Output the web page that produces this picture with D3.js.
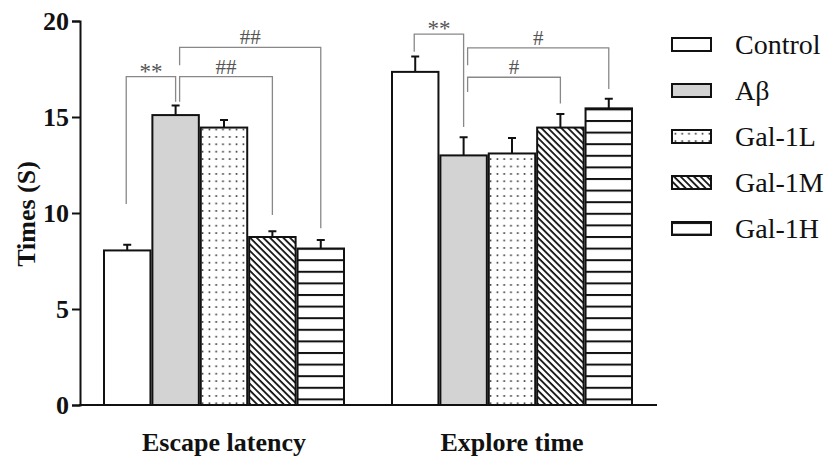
<!DOCTYPE html>
<html>
<head>
<meta charset="utf-8">
<title>Escape latency / Explore time</title>
<script src="https://d3js.org/d3.v7.min.js"></script>
<style>
  body { margin: 0; background: #fff; }
</style>
</head>
<body>
<div class="chart"></div>
<script>
const groups = ["Escape latency", "Explore time"];
const series = ["Control", "Aβ", "Gal-1L", "Gal-1M", "Gal-1H"];
const escapeMeans = [8.05, 15.1, 14.45, 8.75, 8.15];
const escapeErrs  = [0.3, 0.5, 0.4, 0.3, 0.45];
const exploreMeans = [17.35, 13.0, 13.1, 14.45, 15.45];
const exploreErrs  = [0.8, 0.95, 0.8, 0.7, 0.5];
const yTicks = [0, 5, 10, 15, 20];

// significance brackets (heights in seconds)
const sigGroup    = [0, 0, 0, 1, 1, 1];
const sigFrom     = ["Control", "Aβ", "Aβ", "Control", "Aβ", "Aβ"];
const sigTo       = ["Aβ", "Gal-1M", "Gal-1H", "Aβ", "Gal-1M", "Gal-1H"];
const sigLabel    = ["**", "##", "##", "**", "#", "#"];
const sigTop      = [17.1, 17.1, 18.63, 19.32, 17.07, 18.6];
const sigLeftEnd  = [10.47, 15.8, 17.7, 18.4, 16.3, 17.7];
const sigRightEnd = [15.8, 9.9, 9.2, 14.48, 15.7, 16.46];

const means = [escapeMeans, exploreMeans];
const errs = [escapeErrs, exploreErrs];
const FONT = "'Liberation Serif', 'Times New Roman', Times, serif";

const width = 825, height = 459;
const svg = d3.select("div.chart").append("svg")
  .attr("width", width)
  .attr("height", height);

// patterns
const defs = svg.append("defs");
const dots = defs.append("pattern").attr("id", "dots")
  .attr("patternUnits", "userSpaceOnUse")
  .attr("width", 6.8).attr("height", 7.4);
dots.append("rect").attr("width", 6.8).attr("height", 7.4).attr("fill", "#fff");
dots.append("circle").attr("cx", 3.4).attr("cy", 3.7).attr("r", 1).attr("fill", "#333");

const hatch = defs.append("pattern").attr("id", "hatch")
  .attr("patternUnits", "userSpaceOnUse")
  .attr("width", 4.7).attr("height", 10)
  .attr("patternTransform", "rotate(-45)");
hatch.append("rect").attr("width", 4.7).attr("height", 10).attr("fill", "#fff");
hatch.append("line").attr("x1", 1).attr("x2", 1).attr("y1", 0).attr("y2", 10)
  .attr("stroke", "#111").attr("stroke-width", 1.8);

function stripePattern(id, offset) {
  const p = defs.append("pattern").attr("id", id)
    .attr("patternUnits", "userSpaceOnUse")
    .attr("width", 10).attr("height", 11.6).attr("y", offset);
  p.append("rect").attr("width", 10).attr("height", 11.6).attr("fill", "#fff");
  p.append("line").attr("x1", 0).attr("x2", 10).attr("y1", 1).attr("y2", 1)
    .attr("stroke", "#111").attr("stroke-width", 2);
}
stripePattern("stripes", 4);
stripePattern("stripesKey", 0);

const fills = ["#fff", "#d3d3d3", "url(#dots)", "url(#hatch)", "url(#stripes)"];
const keyFills = ["#fff", "#d3d3d3", "url(#dots)", "url(#hatch)", "url(#stripesKey)"];

// scales
const y = d3.scaleLinear().domain([0, 20]).range([405, 21]);
const x0 = d3.scaleBand().domain(groups).range([80, 656])
  .paddingInner(48 / 288).paddingOuter(24 / 288);
const x1 = d3.scaleBand().domain(series).range([0, x0.bandwidth()])
  .paddingInner(0.04);
const cx = (g, s) => x0(groups[g]) + x1(s) + x1.bandwidth() / 2;

// bars
groups.forEach((g, gi) => {
  const gg = svg.append("g").attr("transform", "translate(" + x0(g) + ",0)");
  gg.selectAll("rect").data(series).enter().append("rect")
    .attr("x", d => x1(d))
    .attr("y", (d, i) => y(means[gi][i]))
    .attr("width", x1.bandwidth())
    .attr("height", (d, i) => y(0) - y(means[gi][i]))
    .attr("fill", (d, i) => fills[i])
    .attr("stroke", "#111")
    .attr("stroke-width", 2);

  // error bars (upper only)
  gg.selectAll("path.err").data(series).enter().append("path")
    .attr("class", "err")
    .attr("d", (d, i) => {
      const c = x1(d) + x1.bandwidth() / 2;
      const top = y(means[gi][i] + errs[gi][i]);
      return "M" + c + "," + y(means[gi][i]) + "V" + top + "M" + (c - 4) + "," + top + "H" + (c + 4);
    })
    .attr("fill", "none")
    .attr("stroke", "#111")
    .attr("stroke-width", 2);
});

// axes
const yAxis = svg.append("g").attr("transform", "translate(80,0)")
  .call(d3.axisLeft(y).tickValues(yTicks).tickSize(8).tickPadding(3));
yAxis.select(".domain").attr("stroke", "#111").attr("stroke-width", 2);
yAxis.selectAll(".tick line").attr("stroke", "#111").attr("stroke-width", 2);
yAxis.selectAll("text")
  .style("font-family", FONT)
  .attr("font-size", 26).attr("font-weight", "bold").attr("fill", "#111");

svg.append("line")
  .attr("x1", 79).attr("x2", 657)
  .attr("y1", y(0)).attr("y2", y(0))
  .attr("stroke", "#111").attr("stroke-width", 2);

svg.append("g").selectAll("text").data(groups).enter().append("text")
  .attr("x", d => x0(d) + x0.bandwidth() / 2)
  .attr("y", 451)
  .attr("text-anchor", "middle")
  .style("font-family", FONT)
  .attr("font-size", 26).attr("font-weight", "bold").attr("fill", "#111")
  .text(d => d);

svg.append("text")
  .attr("transform", "translate(26,214) rotate(-90)")
  .attr("text-anchor", "middle")
  .attr("dy", "0.35em")
  .style("font-family", FONT)
  .attr("font-size", 26).attr("font-weight", "bold").attr("fill", "#111")
  .text("Times (S)");

// significance brackets
sigLabel.forEach((lab, k) => {
  const g = sigGroup[k];
  let xl = cx(g, sigFrom[k]);
  let xr = cx(g, sigTo[k]);
  if (sigFrom[k] === "Aβ") xl += 4;
  else xl -= 1;
  const yt = y(sigTop[k]);
  svg.append("path")
    .attr("d", "M" + xl + "," + y(sigLeftEnd[k]) + "V" + yt + "H" + xr + "V" + y(sigRightEnd[k]))
    .attr("fill", "none")
    .attr("stroke", "#888")
    .attr("stroke-width", 1.3);
  const star = lab.indexOf("*") >= 0;
  svg.append("text")
    .attr("x", (xl + xr) / 2)
    .attr("y", star ? yt + 2 : yt - 3)
    .attr("text-anchor", "middle")
    .style("font-family", FONT)
    .attr("font-size", star ? 23 : 21)
    .attr("fill", "#555")
    .text(lab);
});

// legend
const legend = svg.append("g").attr("transform", "translate(672,38)");
const rows = legend.selectAll("g").data(series).enter().append("g")
  .attr("transform", (d, i) => "translate(0," + i * 46 + ")");
rows.append("rect")
  .attr("width", 39).attr("height", 13)
  .attr("fill", (d, i) => keyFills[i])
  .attr("stroke", "#111").attr("stroke-width", 2);
rows.append("text")
  .attr("x", 63).attr("y", 6.5).attr("dy", "0.35em")
  .style("font-family", FONT)
  .attr("font-size", 28).attr("fill", "#111")
  .text(d => d);
</script>
</body>
</html>
